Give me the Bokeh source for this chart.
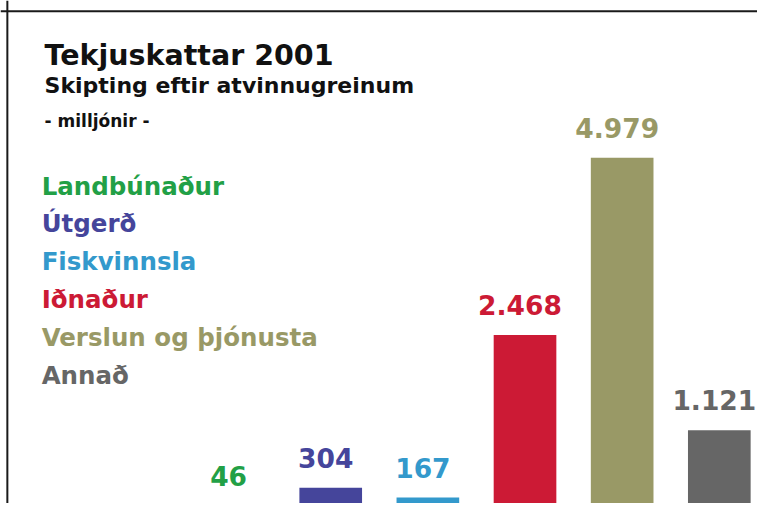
from bokeh.plotting import figure
from bokeh.models import Range1d, Span, ColumnDataSource
from bokeh.core.properties import value
from bokeh.embed import file_html
from bokeh.resources import INLINE

# ---- data ----
categories = ["Landbúnaður", "Útgerð", "Fiskvinnsla", "Iðnaður", "Verslun og þjónusta", "Annað"]
amounts = [46, 304, 167, 2468, 4979, 1121]
colors = ["#22a046", "#45459b", "#3399cc", "#cc1a35", "#999966", "#666666"]
title_text = "Tekjuskattar 2001"
subtitle_text = "Skipting eftir atvinnugreinum"
unit_text = "- milljónir -"

# ---- geometry: the reference layout (773x519) mapped onto the figure ----
W, H = 757, 503
REF_W, REF_H = 773, 519
BAR_STEP = 99.2            # reference px per category
FIRST_CENTER = 238         # reference x of first category centre
PX_PER_UNIT = 0.07288      # reference px per million
BASELINE = 525             # reference y of value 0 (just below the picture)

x_start = -FIRST_CENTER / BAR_STEP
x_end = (REF_W - FIRST_CENTER) / BAR_STEP
y_end = BASELINE / PX_PER_UNIT
y_start = (BASELINE - REF_H) / PX_PER_UNIT

def dx(px):
    return x_start + px / BAR_STEP

def dy(py):
    return (BASELINE - py) / PX_PER_UNIT

p = figure(width=W, height=H, output_backend="svg", toolbar_location=None,
           x_range=Range1d(x_start, x_end), y_range=Range1d(y_start, y_end),
           min_border=0, x_axis_location=None, y_axis_location=None)
p.grid.visible = False
p.outline_line_color = None
p.background_fill_color = "white"
p.border_fill_color = "white"

idx = list(range(len(categories)))
labels = [f"{v:,}".replace(",", ".") for v in amounts]
src = ColumnDataSource(dict(x=idx, top=amounts, color=colors, label=labels, cat=categories))

p.vbar(x="x", top="top", bottom=0, width=0.645, fill_color="color", line_color=None, source=src)

FONT = value("DejaVu Sans")
p.text(x="x", y="top", text="label", text_color="color", source=src,
       text_font=FONT, text_font_style="bold", text_font_size="26.5px",
       text_align="center", text_baseline="middle", y_offset=-30, x_offset=-5)

# category names
leg_y = [dy(191.5 + 39 * i) for i in idx]
p.text(x=[dx(42)] * len(categories), y=leg_y, text=categories, text_color=colors,
       text_font=FONT, text_font_style="bold", text_font_size="24.5px",
       text_align="left", text_baseline="middle")

# titles
p.text(x=[dx(45)], y=[dy(57)], text=[title_text], text_color="#111111",
       text_font=FONT, text_font_style="bold", text_font_size="28.5px",
       text_align="left", text_baseline="middle")
p.text(x=[dx(45)], y=[dy(88)], text=[subtitle_text], text_color="#111111",
       text_font=FONT, text_font_style="bold", text_font_size="22px",
       text_align="left", text_baseline="middle")
p.text(x=[dx(45)], y=[dy(124)], text=[unit_text], text_color="#111111",
       text_font=FONT, text_font_style="bold", text_font_size="17px",
       text_align="left", text_baseline="middle")

# frame border (top and left)
p.add_layout(Span(location=dy(11), dimension="width", line_color="#1a1a1a", line_width=2))
p.add_layout(Span(location=dx(7), dimension="height", line_color="#1a1a1a", line_width=2))

open("out.html", "w").write(file_html(p, INLINE))
